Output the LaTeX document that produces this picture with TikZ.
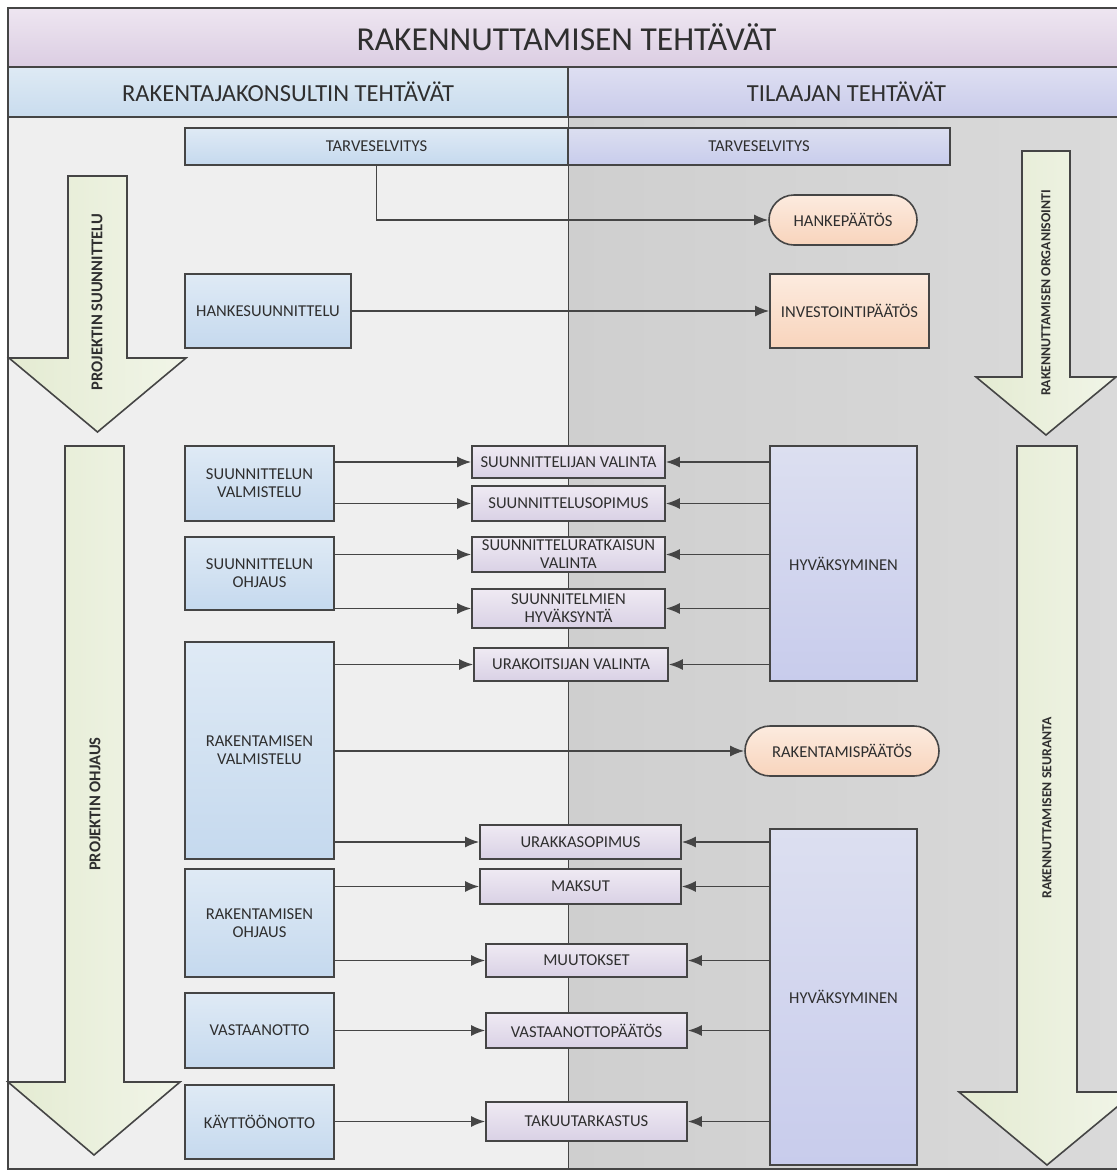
\documentclass[tikz,border=0pt]{standalone}
\usepackage{fontspec}
\setmainfont{Carlito}
\usepackage{xcolor}
\usepackage{tikz}
\usetikzlibrary{arrows.meta}
\pgfdeclarelayer{back}
\pgfdeclarelayer{bg}
\pgfsetlayers{back,bg,main}
\definecolor{edgegray}{HTML}{454545}
\definecolor{textgray}{HTML}{2F2F2F}
\definecolor{leftbody}{HTML}{EFEFEF}
\definecolor{rightbodyA}{HTML}{CFCFCF}
\definecolor{rightbodyB}{HTML}{DADADA}
\definecolor{titletop}{HTML}{EEE6F1}
\definecolor{titlebot}{HTML}{DBCDE2}
\definecolor{headLtop}{HTML}{DEEAF4}
\definecolor{headLbot}{HTML}{C9DCEE}
\definecolor{headRtop}{HTML}{DEDFF2}
\definecolor{headRbot}{HTML}{C9CBEA}
\definecolor{bluetop}{HTML}{DFEAF5}
\definecolor{bluebot}{HTML}{C5D9EE}
\definecolor{lilactop}{HTML}{EFEAF3}
\definecolor{lilacbot}{HTML}{D9D1E5}
\definecolor{peachtop}{HTML}{FCEBDF}
\definecolor{peachbot}{HTML}{F8D4BC}
\definecolor{approvetop}{HTML}{DCDFF0}
\definecolor{approvebot}{HTML}{C8CCEC}
\definecolor{arrowA}{HTML}{E4EBD2}
\definecolor{arrowB}{HTML}{F1F5E8}

\begin{document}
\begin{tikzpicture}[
  x=1pt,
  y=-1pt,
  branch/.style={
    draw=edgegray,
    line width=1.7pt
  },
  flow/.style={
    branch,
    -{Latex[length=14pt,width=11pt]}
  },
  every node/.style={
    rectangle,
    align=center,
    inner sep=2pt,
    text=textgray,
    font=\fontsize{16.6}{18}\selectfont
  },
  titlebar/.style={
    draw=edgegray,
    line width=1.2pt,
    top color=titletop,
    bottom color=titlebot,
    font=\fontsize{33.5}{36}\selectfont,
    minimum width=1117pt,
    minimum height=59pt
  },
  headleft/.style={
    draw=edgegray,
    line width=1.2pt,
    top color=headLtop,
    bottom color=headLbot,
    font=\fontsize{24.5}{27}\selectfont,
    minimum width=560pt,
    minimum height=50pt
  },
  headright/.style={
    headleft,
    top color=headRtop,
    bottom color=headRbot,
    minimum width=557pt
  },
  taskbox/.style={
    draw=edgegray,
    line width=1.6pt,
    top color=bluetop,
    bottom color=bluebot,
    minimum width=149pt
  },
  actbox/.style={
    draw=edgegray,
    line width=1.6pt,
    top color=lilactop,
    bottom color=lilacbot,
    minimum width=193pt
  },
  decision/.style={
    draw=edgegray,
    line width=1.6pt,
    top color=peachtop,
    bottom color=peachbot
  },
  approve/.style={
    draw=edgegray,
    line width=1.6pt,
    top color=approvetop,
    bottom color=approvebot,
    minimum width=147pt
  },
  bigarrow/.style={
    draw=edgegray,
    line width=1.6pt,
    left color=arrowA,
    right color=arrowB,
    line join=miter
  },
  arrowlabel/.style={
    rotate=90,
    font=\bfseries\fontsize{16.5}{18}\selectfont
  },
  arrowlabelsmall/.style={
    rotate=90,
    font=\bfseries\fontsize{13.8}{16}\selectfont
  }
]

\path[use as bounding box] (0,0) rectangle (1117,1171);

\begin{pgfonlayer}{back}
% Body columns
\fill[white] (0,0) rectangle (1117,1171);
\fill[leftbody] (8,117) rectangle (568,1169);
\shade[left color=rightbodyA, right color=rightbodyB] (568,117) rectangle (1125,1169);
\draw[edgegray, line width=1.2pt] (1125,1169) -- (8,1169) -- (8,117);
\draw[edgegray, line width=1.0pt] (568,117) -- (568,1169);
\end{pgfonlayer}

% Title and column headers
\node[titlebar]  (title) at (566.5,37.5) {RAKENNUTTAMISEN TEHTÄVÄT};
\node[headleft]  (headL) at (288,92)     {RAKENTAJAKONSULTIN TEHTÄVÄT};
\node[headright] (headR) at (846.5,92)   {TILAAJAN TEHTÄVÄT};

% Big process arrows
\draw[bigarrow] (68,176) -- (127,176) -- (127,358) -- (186,358) -- (97.5,432)
  -- (9,358) -- (68,358) -- cycle;
\draw[bigarrow] (1022,151) -- (1070,151) -- (1070,377) -- (1116,377) -- (1046,435)
  -- (976,377) -- (1022,377) -- cycle;
\draw[bigarrow] (65,446) -- (124,446) -- (124,1082) -- (180,1082) -- (94,1155)
  -- (8,1082) -- (65,1082) -- cycle;
\draw[bigarrow] (1017,446) -- (1077,446) -- (1077,1092) -- (1135,1092) -- (1047,1165)
  -- (959,1092) -- (1017,1092) -- cycle;

\node[arrowlabel]      (psuun)  at (97,302)   {PROJEKTIN SUUNNITTELU};
\node[arrowlabelsmall] (rorg)   at (1046,293) {RAKENNUTTAMISEN ORGANISOINTI};
\node[arrowlabel]      (pohj)   at (95,804)   {PROJEKTIN OHJAUS};
\node[arrowlabelsmall] (rseur)  at (1047,808) {RAKENNUTTAMISEN SEURANTA};

% Tarveselvitys
\node[taskbox, minimum width=383pt, minimum height=37pt, line width=1.2pt] (tarveL) at (376.5,146.5) {TARVESELVITYS};
\node[approve, minimum width=382pt, minimum height=37pt, line width=1.2pt] (tarveR) at (759,146.5) {TARVESELVITYS};

% Decisions
\node[decision, minimum width=148pt, minimum height=50pt, rounded corners=25pt] (hanke)  at (843,220)   {HANKEPÄÄTÖS};
\node[decision, minimum width=159pt, minimum height=74pt]                       (invest) at (849.5,311) {INVESTOINTIPÄÄTÖS};
\node[decision, minimum width=194pt, minimum height=50pt, rounded corners=25pt] (rpaat)  at (842,751)   {RAKENTAMISPÄÄTÖS};

% Consultant tasks
\node[taskbox, minimum width=166pt, minimum height=74pt] (hsuun) at (268,311)     {HANKESUUNNITTELU};
\node[taskbox, minimum height=75pt]  (svalm) at (259.5,483.5)  {SUUNNITTELUN\\VALMISTELU};
\node[taskbox, minimum height=73pt]  (sohj)  at (259.5,573.5)  {SUUNNITTELUN\\OHJAUS};
\node[taskbox, minimum height=217pt] (rvalm) at (259.5,750.5)  {RAKENTAMISEN\\VALMISTELU};
\node[taskbox, minimum height=108pt] (rohj)  at (259.5,923)    {RAKENTAMISEN\\OHJAUS};
\node[taskbox, minimum height=75pt]  (vast)  at (259.5,1030.5) {VASTAANOTTO};
\node[taskbox, minimum height=74pt]  (kaytt) at (259.5,1122)   {KÄYTTÖÖNOTTO};

% Shared tasks
\node[actbox, minimum height=32pt] (sval)  at (568.5,462)    {SUUNNITTELIJAN VALINTA};
\node[actbox, minimum height=35pt] (ssop)  at (568.5,503.5)  {SUUNNITTELUSOPIMUS};
\node[actbox, minimum height=35pt] (srat)  at (568.5,554.5)  {SUUNNITTELURATKAISUN\\VALINTA};
\node[actbox, minimum height=39pt] (shyv)  at (568.5,608.5)  {SUUNNITELMIEN\\HYVÄKSYNTÄ};
\node[actbox, minimum width=194pt, minimum height=33pt] (uval) at (571,664.5) {URAKOITSIJAN VALINTA};
\node[actbox, minimum width=201pt, minimum height=34pt] (usop) at (580.5,842)    {URAKKASOPIMUS};
\node[actbox, minimum width=201pt, minimum height=35pt] (maks) at (580.5,886.5)  {MAKSUT};
\node[actbox, minimum width=201pt, minimum height=33pt] (muut) at (586.5,960.5)  {MUUTOKSET};
\node[actbox, minimum width=201pt, minimum height=35pt] (vpaa) at (586.5,1030.5) {VASTAANOTTOPÄÄTÖS};
\node[actbox, minimum width=201pt, minimum height=39pt] (takt) at (586.5,1121.5) {TAKUUTARKASTUS};

% Client approvals
\node[approve, minimum height=235pt] (hyv1) at (843.5,563.5) {HYVÄKSYMINEN};
\node[approve, minimum height=336pt] (hyv2) at (843.5,997)   {HYVÄKSYMINEN};

\begin{pgfonlayer}{bg}

% Project decisions
\draw[flow] (tarveL.south) |- (hanke.west);
\draw[flow] (hsuun.east) -- (invest.west);
\draw[flow] (rvalm.east |- rpaat.west) -- (rpaat.west);

% Consultant to shared tasks
\draw[flow] (svalm.east |- sval.west) -- (sval.west);
\draw[flow] (svalm.east |- ssop.west) -- (ssop.west);
\draw[flow] (sohj.east |- srat.west)  -- (srat.west);
\draw[flow] (sohj.east |- shyv.west)  -- (shyv.west);
\draw[flow] (rvalm.east |- uval.west) -- (uval.west);
\draw[flow] (rvalm.east |- usop.west) -- (usop.west);
\draw[flow] (rohj.east |- maks.west)  -- (maks.west);
\draw[flow] (rohj.east |- muut.west)  -- (muut.west);
\draw[flow] (vast.east |- vpaa.west)  -- (vpaa.west);
\draw[flow] (kaytt.east |- takt.west) -- (takt.west);

% Approvals to shared tasks
\draw[flow] (hyv1.west |- sval.east) -- (sval.east);
\draw[flow] (hyv1.west |- ssop.east) -- (ssop.east);
\draw[flow] (hyv1.west |- srat.east) -- (srat.east);
\draw[flow] (hyv1.west |- shyv.east) -- (shyv.east);
\draw[flow] (hyv1.west |- uval.east) -- (uval.east);
\draw[flow] (hyv2.west |- usop.east) -- (usop.east);
\draw[flow] (hyv2.west |- maks.east) -- (maks.east);
\draw[flow] (hyv2.west |- muut.east) -- (muut.east);
\draw[flow] (hyv2.west |- vpaa.east) -- (vpaa.east);
\draw[flow] (hyv2.west |- takt.east) -- (takt.east);

\end{pgfonlayer}

\end{tikzpicture}
\end{document}
